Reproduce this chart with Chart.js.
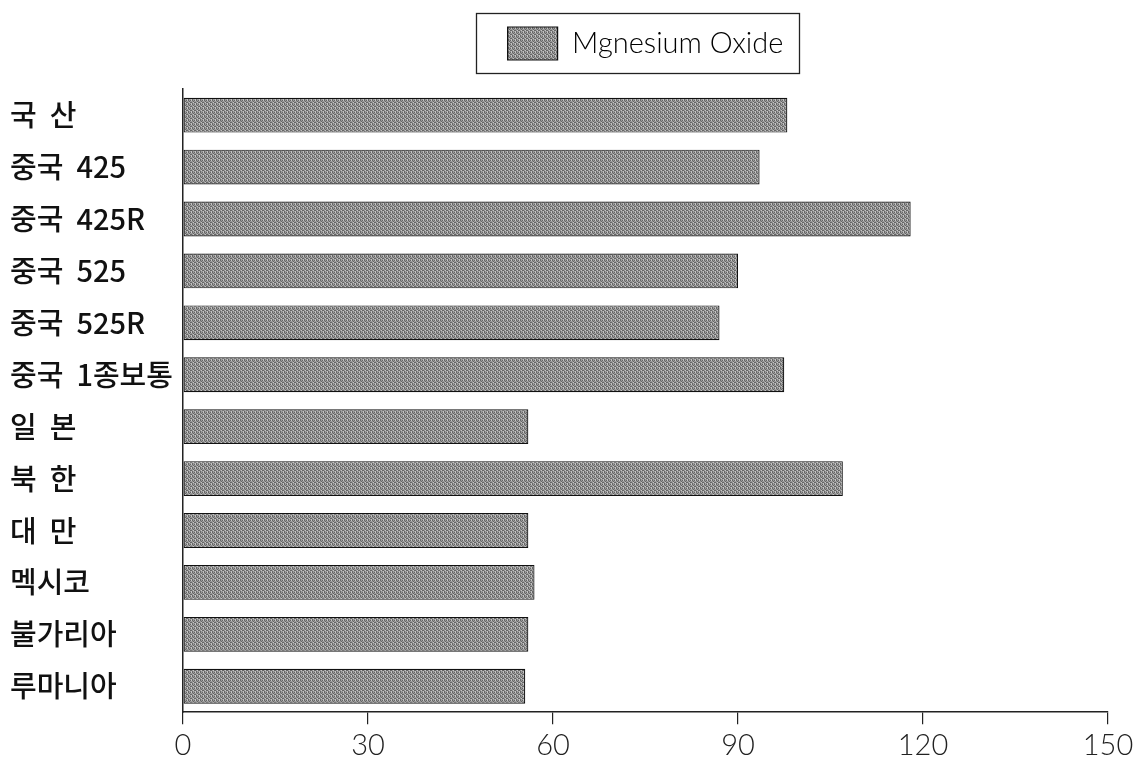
<!DOCTYPE html>
<html><head><meta charset="utf-8">
<script src="https://cdn.jsdelivr.net/npm/chart.js@4"></script>
<style>html,body{margin:0;padding:0;background:#fff}#wrap{width:1148px;height:767px}</style>
</head><body><div id="wrap"><canvas id="c" width="1148" height="767"></canvas></div>
<script>
const categories = ['국  산','중국  425','중국  425R','중국  525','중국  525R','중국  1종보통','일  본','북  한','대  만','멕시코','불가리아','루마니아'];
const seriesName = 'Mgnesium Oxide';
const values = [98, 93.5, 118, 90, 87, 97.5, 56, 107, 56, 57, 56, 55.5];
const xTicks = [0, 30, 60, 90, 120, 150];

function makePattern(){
  const p = document.createElement('canvas'); p.width = 4; p.height = 4;
  const g = p.getContext('2d');
  g.fillStyle = '#9a9a9a'; g.fillRect(0,0,4,4);
  g.fillStyle = '#666';
  g.fillRect(0,0,1,1); g.fillRect(2,0,1,1); g.fillRect(1,1,1,1); g.fillRect(3,2,1,1); g.fillRect(0,3,1,1); g.fillRect(2,2,1,1);
  g.fillStyle = '#c4c4c4';
  g.fillRect(3,0,1,1); g.fillRect(1,2,1,1); g.fillRect(3,3,1,1);
  return g.createPattern(p,'repeat');
}
const pat = makePattern();

const legendBox = {
  id: 'legendBox',
  afterDraw(chart){
    const hb = chart.legend.legendHitBoxes && chart.legend.legendHitBoxes[0];
    if (!hb) return;
    const ctx = chart.ctx;
    ctx.save(); ctx.strokeStyle = '#222'; ctx.lineWidth = 1.3;
    const x0 = Math.round(hb.left - 32) + 0.5, y0 = Math.round(hb.top - 14) + 0.5;
    const x1 = Math.round(hb.left + hb.width + 16) + 0.5, y1 = Math.round(hb.top + hb.height + 13) + 0.5;
    ctx.strokeRect(x0, y0, x1 - x0, y1 - y0);
    ctx.restore();
  }
};

new Chart(document.getElementById('c'), {
  type: 'bar',
  data: { labels: categories, datasets: [{
    label: seriesName, data: values,
    backgroundColor: pat, borderColor: '#111', borderWidth: 1.2, borderSkipped: false,
    categoryPercentage: 0.92, barPercentage: 0.73
  }]},
  options: {
    indexAxis: 'y', responsive: false, animation: false,
    layout: { padding: { left: 10, right: 40, top: 7, bottom: 0 } },
    plugins: {
      tooltip: { enabled: false },
      legend: {
        position: 'top', align: 'center', fullSize: false, weight: 2000,
        labels: {
          boxWidth: 50, boxHeight: 33, padding: 20,
          color: '#222',
          font: { family: 'Lato', size: 29, weight: '300' },
          generateLabels(chart){
            return [{ text: seriesName, fillStyle: pat, strokeStyle: '#111', lineWidth: 1.2, datasetIndex: 0 }];
          }
        }
      },
      title: { display: true, text: ' ', position: 'top', weight: 1000, font: { size: 1 }, padding: { top: 0, bottom: 18 } }
    },
    scales: {
      x: {
        min: 0, max: 150,
        afterBuildTicks(ax){ ax.ticks = xTicks.map(v => ({ value: v })); },
        border: { display: true, color: '#222', width: 1.5 },
        grid: { drawOnChartArea: false, drawTicks: true, tickLength: 12, color: '#222', lineWidth: 1.2 },
        ticks: { color: '#222', font: { family: 'Lato', size: 29, weight: '300' }, padding: 4 }
      },
      y: {
        border: { display: true, color: '#222', width: 1.5 },
        grid: { display: false, drawTicks: false },
        afterFit(ax){ ax.width = 173; },
        ticks: { crossAlign: 'far', padding: 6, color: '#111',
          font: { family: 'Noto Sans CJK KR', size: 29, weight: '500' } }
      }
    }
  },
  plugins: [legendBox]
});
</script></body></html>
